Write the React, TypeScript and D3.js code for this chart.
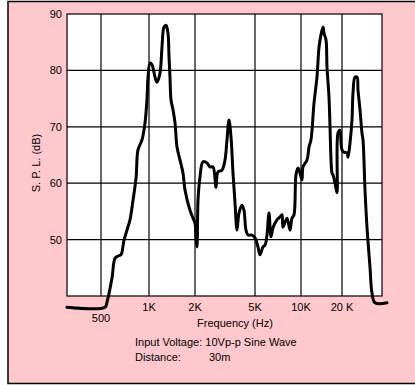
import { useEffect, useRef } from "react";
import * as d3 from "d3";

// response curve: frequency (Hz) and level (dB)
const freqs = [
  300, 530, 545, 586, 612, 639, 667, 697, 728, 760, 794, 830, 853, 904, 944,
  971, 986, 1015, 1046, 1095, 1128, 1180, 1216, 1254, 1292, 1331, 1352, 1372,
  1393, 1436, 1480, 1525, 1595, 1669, 1720, 1855, 1941, 2000, 2031, 2062, 2094,
  2158, 2260, 2402, 2515, 2632, 2756, 2841, 3019, 3162, 3260, 3362, 3466, 3573,
  3684, 3798, 3915, 4098, 4225, 4356, 4491, 4775, 5000, 5230, 5391, 5640, 5812,
  5990, 6173, 6363, 6557, 6965, 7288, 7511, 7625, 8099, 8474, 8732, 8999, 9274,
  9558, 9850, 10170, 10344, 11070, 11450, 11840, 12460, 13100, 13560, 14020,
  14510, 14750, 15260, 15520, 16050, 16330, 16610, 16890, 17170, 17770, 18380,
  18690, 19330, 19670, 20000, 20700, 21810, 22200, 22970, 23780, 24200, 25050,
  25940, 26390, 27320, 28280, 28780, 29800, 30840, 32490, 33640, 35430, 43620,
];
const levels = [
  38, 38, 38.9, 43.2, 46.7, 47.1, 47.3, 49.9, 51.7, 53.5, 57.0, 61.0, 65.9,
  67.7, 70.7, 74.8, 78.8, 81.3, 81.0, 78.8, 77.9, 79.5, 84.1, 87.7, 88.0, 86.6,
  82.4, 78.8, 74.8, 73.0, 70.7, 66.4, 64.1, 61.8, 58.8, 55.2, 53.8, 52.9, 50.5,
  48.7, 57.0, 61.1, 63.8, 63.6, 62.9, 62.9, 59.3, 62.0, 62.3, 64.1, 67.7, 71.2,
  68.2, 61.8, 56.5, 51.7, 54.7, 56.1, 55.2, 51.7, 50.8, 50.8, 50.3, 48.7, 47.3,
  48.7, 49.0, 50.8, 54.7, 50.5, 52.1, 53.5, 54.0, 54.4, 52.2, 53.8, 51.7, 53.8,
  54.4, 61.5, 62.7, 61.8, 60.6, 62.9, 64.1, 66.4, 67.7, 74.2, 78.8, 84.1, 86.3,
  87.7, 86.6, 85.4, 80.6, 75.3, 70.0, 64.1, 61.8, 61.5, 60.0, 58.3, 68.9, 69.4,
  67.1, 65.9, 65.5, 65.4, 64.6, 67.1, 71.2, 76.0, 78.8, 78.8, 76.5, 73.0, 68.9,
  67.7, 58.8, 52.2, 45.1, 40.5, 38.8, 38.8,
];

const yTicks = [50, 60, 70, 80, 90];
const xTicks = [500, 1000, 2000, 5000, 10000, 20000];
const xTickLabels = ["500", "1K", "2K", "5K", "10K", "20 K"];

const W = 415;
const H = 385;
const plot = { left: 67, right: 382, top: 14, bottom: 296 };

export default function App() {
  const svgRef = useRef<SVGSVGElement>(null);

  useEffect(() => {
    const svg = d3.select(svgRef.current);
    svg.selectAll("*").remove();

    // the paper grid is not quite a true log scale, so map it piecewise
    const x = d3
      .scaleLog()
      .domain([300, 500, 1000, 2000, 5000, 10000, 20000, 40000])
      .range([plot.left, 101, 149, 195, 255, 301, 342, plot.right]);
    const y = d3.scaleLinear().domain([40, 90]).range([plot.bottom, plot.top]);

    // background panel
    svg
      .append("rect")
      .attr("x", 8)
      .attr("y", 1.5)
      .attr("width", W)
      .attr("height", 382)
      .attr("fill", "#ffc8cc")
      .attr("stroke", "#000")
      .attr("stroke-width", 1.5);

    svg
      .append("rect")
      .attr("x", plot.left)
      .attr("y", plot.top)
      .attr("width", plot.right - plot.left)
      .attr("height", plot.bottom - plot.top)
      .attr("fill", "#fff")
      .attr("stroke", "#000")
      .attr("stroke-width", 1.2);

    const g = svg.append("g");

    // grid
    g.selectAll("line.h")
      .data(yTicks.slice(0, -1))
      .enter()
      .append("line")
      .attr("x1", plot.left)
      .attr("x2", plot.right)
      .attr("y1", (d) => y(d))
      .attr("y2", (d) => y(d))
      .attr("stroke", "#000")
      .attr("stroke-width", 1.2);

    g.selectAll("line.v")
      .data(xTicks)
      .enter()
      .append("line")
      .attr("x1", (d) => x(d))
      .attr("x2", (d) => x(d))
      .attr("y1", plot.top)
      .attr("y2", plot.bottom)
      .attr("stroke", "#000")
      .attr("stroke-width", 1.2);

    const font = "Liberation Sans, Arial, sans-serif";

    // y labels
    g.selectAll("text.yt")
      .data(yTicks)
      .enter()
      .append("text")
      .attr("x", plot.left - 5)
      .attr("y", (d) => y(d) + 4)
      .attr("text-anchor", "end")
      .attr("font-family", font)
      .attr("font-size", 11)
      .text((d) => d);

    g.append("text")
      .attr("transform", "translate(40,163) rotate(-90)")
      .attr("text-anchor", "middle")
      .attr("font-family", font)
      .attr("font-size", 11)
      .text("S. P. L. (dB)");

    // x labels (500 sits lower)
    g.selectAll("text.xt")
      .data(xTicks)
      .enter()
      .append("text")
      .attr("x", (d) => x(d))
      .attr("y", (d) => (d === 500 ? 322 : 311))
      .attr("text-anchor", "middle")
      .attr("font-family", font)
      .attr("font-size", 11)
      .text((d, i) => xTickLabels[i]);

    g.append("text")
      .attr("x", 235)
      .attr("y", 327)
      .attr("text-anchor", "middle")
      .attr("font-family", font)
      .attr("font-size", 11)
      .text("Frequency (Hz)");

    g.append("text")
      .attr("x", 135)
      .attr("y", 346)
      .attr("font-family", font)
      .attr("font-size", 11)
      .text("Input Voltage: 10Vp-p Sine Wave");

    g.append("text")
      .attr("x", 135)
      .attr("y", 361)
      .attr("font-family", font)
      .attr("font-size", 11)
      .text("Distance:");

    g.append("text")
      .attr("x", 209)
      .attr("y", 361)
      .attr("font-family", font)
      .attr("font-size", 11)
      .text("30m");

    // response curve
    const pts = freqs.map((f, i) => [f, levels[i]] as [number, number]);
    const line = d3
      .line<[number, number]>()
      .x((d) => x(d[0]))
      .y((d) => y(d[1]))
      .curve(d3.curveCatmullRom.alpha(0.5));

    g.append("path")
      .datum(pts)
      .attr("d", line)
      .attr("fill", "none")
      .attr("stroke", "#000")
      .attr("stroke-width", 3)
      .attr("stroke-linejoin", "round")
      .attr("stroke-linecap", "round");
  }, []);

  return (
    <svg
      ref={svgRef}
      width={W}
      height={H}
      style={{ position: "absolute", left: 0, top: 0 }}
    />
  );
}
